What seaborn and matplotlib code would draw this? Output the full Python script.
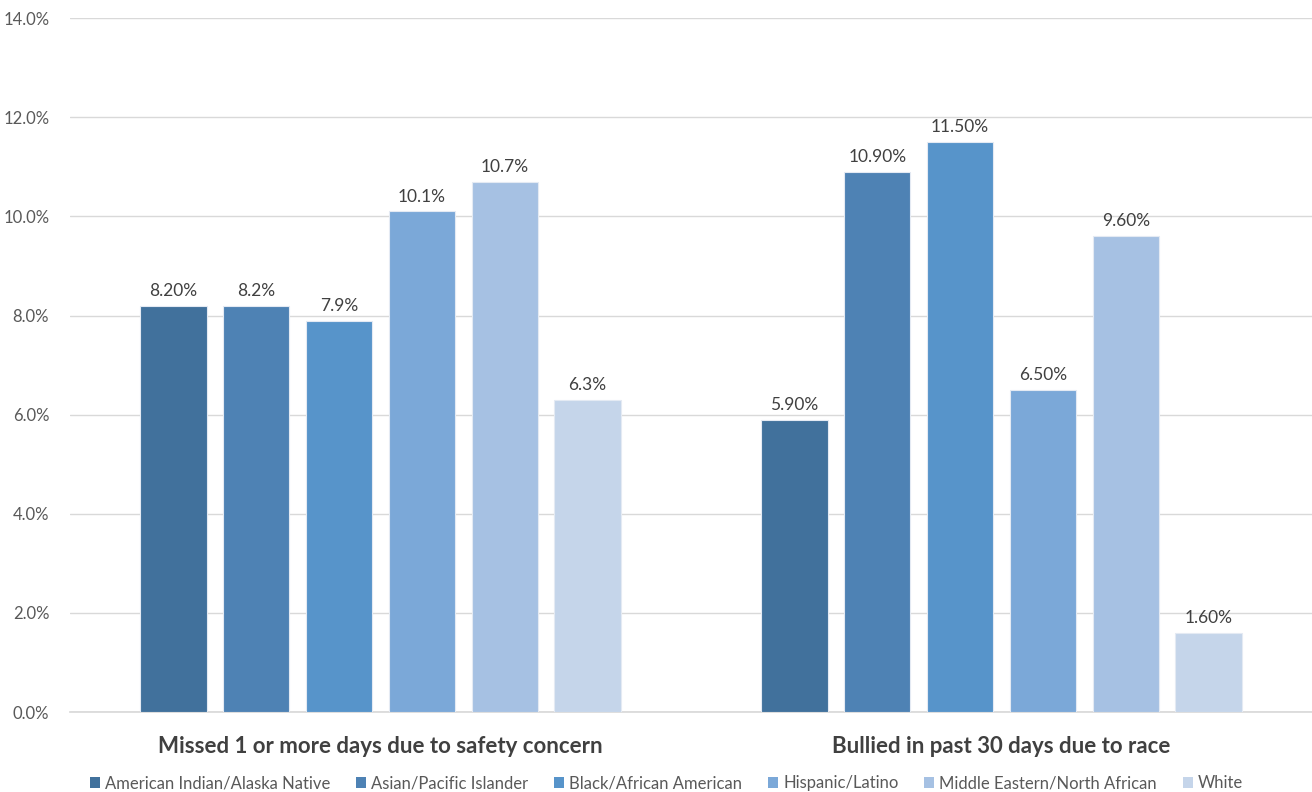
import matplotlib
matplotlib.use("Agg")
import matplotlib.pyplot as plt
import seaborn as sns
import pandas as pd
from matplotlib.patches import Patch
from matplotlib.ticker import FuncFormatter

measures = ["Missed 1 or more days due to safety concern",
            "Bullied in past 30 days due to race"]
groups = ["American Indian/Alaska Native", "Asian/Pacific Islander",
          "Black/African American", "Hispanic/Latino",
          "Middle Eastern/North African", "White"]
missed_vals = [8.2, 8.2, 7.9, 10.1, 10.7, 6.3]
bullied_vals = [5.9, 10.9, 11.5, 6.5, 9.6, 1.6]
missed_labels = ["8.20%", "8.2%", "7.9%", "10.1%", "10.7%", "6.3%"]
bullied_labels = ["5.90%", "10.90%", "11.50%", "6.50%", "9.60%", "1.60%"]
y_ticks = [0, 2, 4, 6, 8, 10, 12, 14]

palette = ["#41719C", "#4E82B4", "#5794CA", "#7BA8D8", "#A6C1E3", "#C5D5EA"]

df = pd.DataFrame({
    "measure": [measures[0]] * len(groups) + [measures[1]] * len(groups),
    "group": groups * 2,
    "value": missed_vals + bullied_vals,
})

sns.set_theme(style="white")
plt.rcParams["font.family"] = ["Lato", "DejaVu Sans"]

fig = plt.figure(figsize=(13.12, 7.92), dpi=100)
ax = fig.add_axes([0.0534, 0.101, 0.9466, 0.876])

sns.barplot(data=df, x="measure", y="value", hue="group", order=measures,
            hue_order=groups, palette=palette, saturation=1, width=0.8,
            gap=0.2, edgecolor="#E4EAF3", linewidth=0.8, legend=False,
            ax=ax, errorbar=None, zorder=3)

for cont, labels in zip(ax.containers, zip(missed_labels, bullied_labels)):
    ax.bar_label(cont, labels=list(labels), padding=5, fontsize=12.5,
                 color="#404040")

ax.set_ylim(0, 14)
ax.set_xlim(-0.5, 1.5)
ax.set_yticks(y_ticks)
ax.yaxis.set_major_formatter(FuncFormatter(lambda v, p: f"{v:.1f}%"))
ax.grid(axis="y", color="#D9D9D9", linewidth=1.0, zorder=0)
ax.set_axisbelow(True)
for s in ["left", "right", "top"]:
    ax.spines[s].set_visible(False)
ax.spines["bottom"].set_color("#D9D9D9")
ax.tick_params(axis="y", labelsize=12, labelcolor="#595959", length=0, pad=15)
ax.tick_params(axis="x", labelsize=16, labelcolor="#404040", length=0, pad=17)
for t in ax.get_xticklabels():
    t.set_fontweight("bold")
ax.set_xlabel("")
ax.set_ylabel("")

handles = [Patch(facecolor=c, edgecolor="none") for c in palette]
fig.legend(handles, groups, loc="lower center", bbox_to_anchor=(0.508, -0.018),
           ncol=6, frameon=False, fontsize=12, labelcolor="#595959",
           handlelength=0.6, handleheight=0.6, handletextpad=0.3,
           columnspacing=1.55)

fig.savefig("out.png", dpi=100, facecolor="white")
